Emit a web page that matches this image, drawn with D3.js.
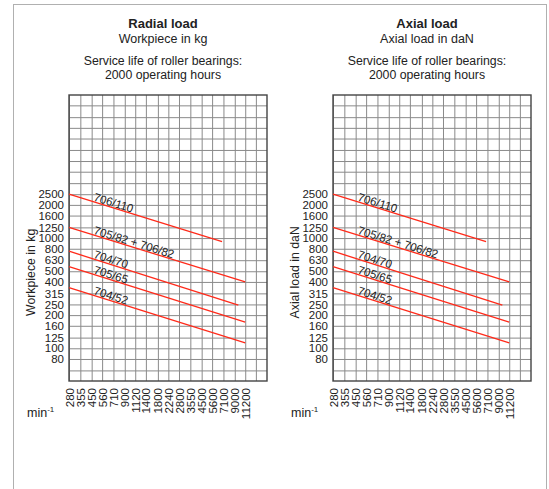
<!DOCTYPE html>
<html><head><meta charset="utf-8">
<script src="https://cdn.jsdelivr.net/npm/d3@7/dist/d3.min.js"></script>
<style>
html,body{margin:0;padding:0;background:#fff;}
svg{display:block;font-family:"Liberation Sans",Arial,Helvetica,sans-serif;}
</style></head>
<body>
<svg id="chart" width="549" height="489"></svg>
<script>
// ---- data ----
const xTickLabels = [280,355,450,560,710,900,1120,1400,1800,2240,2800,3550,4500,5600,7100,9000,11200];
const xExtraGrid = [14000];
const yTickLabels = [2500,2000,1600,1250,1000,800,630,500,400,315,250,200,160,125,100,80];
const yExtraGrid = [3150,4000,5000,6300,8000,10000,12500,16000,63];
const xDomain = [280, 17670];
const yDomain = [50.5, 19860];

const seriesNames = ["706/110","705/82 + 706/82","704/70","705/65","704/52"];
const startRpm  = [280,280,280,280,280];
const startLoad = [2500,1250,760,550,355];
const endRpm    = [6900,11200,9700,11200,11200];
const endLoad   = [930,400,247,173,112];
const labelRpm  = 460;

const panels = [
  {title:"Radial load", sub:"Workpiece in kg", yLabel:"Workpiece in kg", x0:69},
  {title:"Axial load", sub:"Axial load in daN", yLabel:"Axial load in daN", x0:333}
];
const serviceLines = ["Service life of roller bearings:","2000 operating hours"];

// ---- drawing ----
const svg = d3.select("#chart");
svg.append("rect").attr("x",13.5).attr("y",4.5).attr("width",533).attr("height",520)
  .attr("fill","none").attr("stroke","#b0b0b0").attr("stroke-width",1);

const gridW = 198, gridH = 286, y0 = 95;
const textCol = "#222";
const ff = "Liberation Sans, Arial, sans-serif";

panels.forEach(p => {
  const x = d3.scaleLog().domain(xDomain).range([p.x0, p.x0+gridW]);
  const y = d3.scaleLog().domain(yDomain).range([y0+gridH, y0]);
  const cx = p.x0 + gridW/2 - 5;

  // titles
  svg.append("text").attr("x",cx).attr("y",28).attr("text-anchor","middle")
    .attr("font-size",13).attr("font-weight","bold").attr("fill",textCol).text(p.title);
  svg.append("text").attr("x",cx).attr("y",43).attr("text-anchor","middle")
    .attr("font-size",12.5).attr("fill",textCol).text(p.sub);
  serviceLines.forEach((t,i)=>{
    svg.append("text").attr("x",cx).attr("y",65+i*14).attr("text-anchor","middle")
      .attr("font-size",12.3).attr("fill",textCol).text(t);
  });

  const g = svg.append("g");
  // grid
  const xGrid = xTickLabels.concat(xExtraGrid);
  const yGrid = yTickLabels.concat(yExtraGrid);
  g.append("g").attr("transform",`translate(0,${y0+gridH})`)
    .call(d3.axisBottom(x).tickValues(xGrid).tickSize(-gridH).tickFormat(""))
    .call(s=>{s.select(".domain").remove();
      s.selectAll(".tick line").attr("stroke","#8a8a8a").attr("stroke-width",1);});
  g.append("g").attr("transform",`translate(${p.x0},0)`)
    .call(d3.axisLeft(y).tickValues(yGrid).tickSize(-gridW).tickFormat(""))
    .call(s=>{s.select(".domain").remove();
      s.selectAll(".tick line").attr("stroke","#8a8a8a").attr("stroke-width",1);});
  g.append("rect").attr("x",p.x0).attr("y",y0).attr("width",gridW).attr("height",gridH)
    .attr("fill","none").attr("stroke","#444").attr("stroke-width",1.4);

  // tick labels
  g.append("g").attr("transform",`translate(${p.x0},0)`)
    .call(d3.axisLeft(y).tickValues(yTickLabels).tickSize(0).tickPadding(5).tickFormat(d3.format("d")))
    .call(s=>{s.select(".domain").remove();
      s.selectAll("text").attr("font-size",11.5).attr("fill",textCol).attr("font-family",ff);});
  g.append("g").attr("transform",`translate(0,${y0+gridH})`)
    .call(d3.axisBottom(x).tickValues(xTickLabels).tickSize(0).tickFormat(d3.format("d")))
    .call(s=>{s.select(".domain").remove();
      s.selectAll("text").attr("font-size",11.5).attr("fill",textCol).attr("font-family",ff)
       .attr("transform","rotate(-90)").attr("text-anchor","end")
       .attr("x",-7).attr("y",0).attr("dy","0.35em");});

  // axis titles
  svg.append("text").attr("transform",`translate(${p.x0-34},${y0+gridH*0.62}) rotate(-90)`)
    .attr("text-anchor","middle").attr("font-size",12.3).attr("fill",textCol).text(p.yLabel);
  const mt = svg.append("text").attr("x",p.x0-42).attr("y",417).attr("font-size",12.5).attr("fill",textCol);
  mt.append("tspan").text("min");
  mt.append("tspan").attr("font-size",8).attr("dy",-5).text("-1");

  // red lines + labels
  seriesNames.forEach((name,i)=>{
    const xa = x(startRpm[i]), ya = y(startLoad[i]), xb = x(endRpm[i]), yb = y(endLoad[i]);
    g.append("line").attr("x1",xa).attr("y1",ya).attr("x2",xb).attr("y2",yb)
      .attr("stroke","#ff2a1a").attr("stroke-width",1.3);
    const ang = Math.atan2(yb-ya, xb-xa)*180/Math.PI;
    const lx = x(labelRpm);
    const ly = ya + (lx-xa)*(yb-ya)/(xb-xa);
    g.append("text").attr("transform",`translate(${lx},${ly}) rotate(${ang})`)
      .attr("dy",-1).attr("font-size",11.5).attr("fill",textCol).text(name);
  });
});
</script>
</body></html>
